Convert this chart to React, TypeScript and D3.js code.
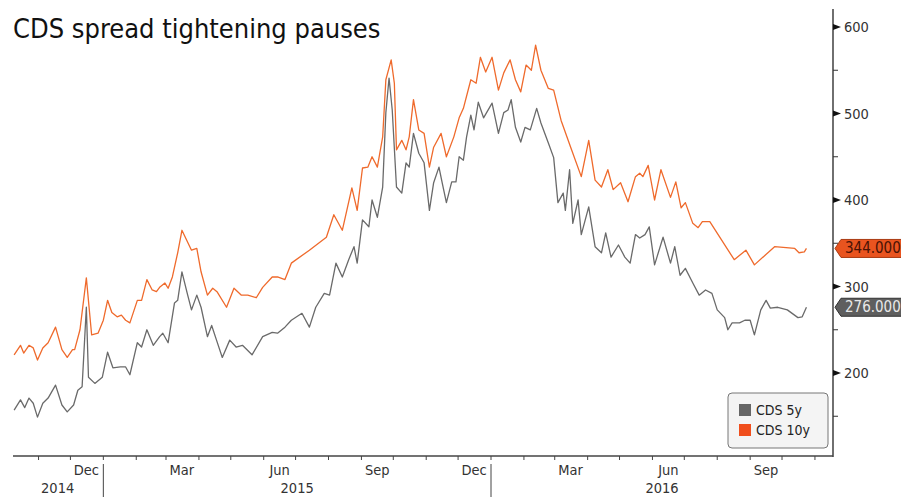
import React from "react";
import * as d3 from "d3";

// CDS spreads (bp), read as [date, value]
const cds10y: [string, number][] = [
  ["2014-10-09", 221], ["2014-10-15", 232], ["2014-10-18", 223], ["2014-10-23", 232],
  ["2014-10-27", 229], ["2014-10-31", 215], ["2014-11-05", 229], ["2014-11-10", 235],
  ["2014-11-17", 253], ["2014-11-23", 227], ["2014-11-28", 218], ["2014-12-03", 227],
  ["2014-12-05", 227], ["2014-12-10", 250], ["2014-12-16", 310], ["2014-12-21", 244],
  ["2014-12-27", 246], ["2015-01-01", 261], ["2015-01-05", 284], ["2015-01-09", 270],
  ["2015-01-14", 265], ["2015-01-18", 267], ["2015-01-22", 261], ["2015-01-26", 258],
  ["2015-02-02", 284], ["2015-02-06", 284], ["2015-02-11", 308], ["2015-02-16", 296],
  ["2015-02-20", 294], ["2015-02-23", 299], ["2015-02-28", 304], ["2015-03-03", 298],
  ["2015-03-07", 311], ["2015-03-12", 339], ["2015-03-16", 365], ["2015-03-25", 342],
  ["2015-03-30", 344], ["2015-04-03", 317], ["2015-04-09", 290], ["2015-04-14", 298],
  ["2015-04-18", 294], ["2015-04-27", 276], ["2015-05-04", 298], ["2015-05-11", 290],
  ["2015-05-17", 290], ["2015-05-25", 287], ["2015-05-31", 299], ["2015-06-09", 311],
  ["2015-06-14", 311], ["2015-06-21", 308], ["2015-06-27", 327], ["2015-07-14", 342],
  ["2015-07-30", 357], ["2015-08-06", 383], ["2015-08-14", 365], ["2015-08-23", 414],
  ["2015-08-28", 388], ["2015-09-02", 437], ["2015-09-07", 438], ["2015-09-11", 450],
  ["2015-09-16", 438], ["2015-09-21", 473], ["2015-09-24", 539], ["2015-09-29", 562],
  ["2015-10-02", 535], ["2015-10-04", 458], ["2015-10-09", 469], ["2015-10-13", 458],
  ["2015-10-16", 473], ["2015-10-20", 516], ["2015-10-25", 481], ["2015-10-30", 477],
  ["2015-11-04", 438], ["2015-11-08", 461], ["2015-11-15", 477], ["2015-11-20", 450],
  ["2015-11-27", 473], ["2015-12-02", 495], ["2015-12-06", 506], ["2015-12-13", 539],
  ["2015-12-18", 535], ["2015-12-22", 565], ["2015-12-27", 548], ["2016-01-02", 565],
  ["2016-01-08", 527], ["2016-01-13", 547], ["2016-01-19", 562], ["2016-01-24", 539],
  ["2016-01-29", 525], ["2016-02-03", 556], ["2016-02-08", 550], ["2016-02-12", 579],
  ["2016-02-17", 550], ["2016-02-24", 529], ["2016-02-29", 527], ["2016-03-07", 492],
  ["2016-03-16", 461], ["2016-03-26", 427], ["2016-04-02", 469], ["2016-04-08", 423],
  ["2016-04-14", 415], ["2016-04-20", 435], ["2016-04-25", 412], ["2016-05-02", 420],
  ["2016-05-09", 398], ["2016-05-16", 427], ["2016-05-20", 431], ["2016-05-23", 427],
  ["2016-05-28", 440], ["2016-06-03", 400], ["2016-06-09", 435], ["2016-06-18", 403],
  ["2016-06-23", 421], ["2016-06-28", 391], ["2016-07-02", 397], ["2016-07-09", 373],
  ["2016-07-14", 368], ["2016-07-18", 375], ["2016-07-25", 375], ["2016-08-17", 331],
  ["2016-08-28", 342], ["2016-09-05", 325], ["2016-09-24", 346], ["2016-10-13", 344],
  ["2016-10-17", 339], ["2016-10-22", 340], ["2016-10-24", 344],
];

const cds5y: [string, number][] = [
  ["2014-10-09", 157], ["2014-10-15", 169], ["2014-10-19", 160], ["2014-10-23", 171],
  ["2014-10-27", 165], ["2014-10-31", 149], ["2014-11-05", 165], ["2014-11-10", 171],
  ["2014-11-17", 186], ["2014-11-23", 163], ["2014-11-28", 155], ["2014-12-04", 163],
  ["2014-12-08", 180], ["2014-12-12", 184], ["2014-12-16", 276], ["2014-12-18", 195],
  ["2014-12-24", 188], ["2014-12-31", 195], ["2015-01-05", 224], ["2015-01-10", 206],
  ["2015-01-17", 207], ["2015-01-22", 207], ["2015-01-26", 198], ["2015-02-02", 235],
  ["2015-02-06", 230], ["2015-02-11", 250], ["2015-02-17", 232], ["2015-02-23", 242],
  ["2015-02-26", 246], ["2015-03-03", 235], ["2015-03-09", 281], ["2015-03-12", 284],
  ["2015-03-16", 317], ["2015-03-21", 292], ["2015-03-25", 273], ["2015-03-30", 290],
  ["2015-04-03", 276], ["2015-04-09", 242], ["2015-04-13", 255], ["2015-04-17", 240],
  ["2015-04-23", 218], ["2015-04-30", 238], ["2015-05-06", 230], ["2015-05-12", 232],
  ["2015-05-21", 221], ["2015-05-31", 242], ["2015-06-09", 247], ["2015-06-14", 246],
  ["2015-06-21", 253], ["2015-06-27", 261], ["2015-07-02", 265], ["2015-07-07", 269],
  ["2015-07-14", 253], ["2015-07-20", 276], ["2015-07-28", 292], ["2015-08-02", 290],
  ["2015-08-08", 327], ["2015-08-14", 311], ["2015-08-20", 331], ["2015-08-25", 346],
  ["2015-08-28", 327], ["2015-09-02", 377], ["2015-09-08", 369], ["2015-09-11", 400],
  ["2015-09-16", 380], ["2015-09-21", 415], ["2015-09-24", 501], ["2015-09-27", 541],
  ["2015-09-30", 504], ["2015-10-04", 415], ["2015-10-09", 408], ["2015-10-13", 443],
  ["2015-10-16", 438], ["2015-10-20", 477], ["2015-10-25", 454], ["2015-10-30", 443],
  ["2015-11-04", 388], ["2015-11-08", 420], ["2015-11-13", 438], ["2015-11-16", 420],
  ["2015-11-20", 397], ["2015-11-25", 421], ["2015-11-29", 421], ["2015-12-02", 450],
  ["2015-12-06", 446], ["2015-12-09", 473], ["2015-12-13", 498], ["2015-12-16", 481],
  ["2015-12-20", 513], ["2015-12-25", 495], ["2016-01-02", 512], ["2016-01-08", 477],
  ["2016-01-13", 501], ["2016-01-17", 504], ["2016-01-20", 516], ["2016-01-24", 484],
  ["2016-01-29", 467], ["2016-02-02", 484], ["2016-02-07", 481], ["2016-02-13", 506],
  ["2016-02-17", 489], ["2016-02-24", 466], ["2016-02-29", 449], ["2016-03-04", 397],
  ["2016-03-09", 408], ["2016-03-11", 388], ["2016-03-15", 435], ["2016-03-18", 373],
  ["2016-03-23", 400], ["2016-03-26", 360], ["2016-04-02", 392], ["2016-04-08", 346],
  ["2016-04-14", 339], ["2016-04-18", 362], ["2016-04-23", 334], ["2016-04-30", 348],
  ["2016-05-06", 334], ["2016-05-11", 327], ["2016-05-16", 360], ["2016-05-20", 356],
  ["2016-05-25", 360], ["2016-05-29", 369], ["2016-06-03", 325], ["2016-06-11", 357],
  ["2016-06-18", 327], ["2016-06-22", 346], ["2016-06-27", 313], ["2016-07-02", 321],
  ["2016-07-09", 304], ["2016-07-15", 290], ["2016-07-21", 296], ["2016-07-27", 292],
  ["2016-08-01", 273], ["2016-08-08", 264], ["2016-08-11", 250], ["2016-08-15", 258],
  ["2016-08-22", 258], ["2016-08-27", 261], ["2016-09-01", 261], ["2016-09-05", 244],
  ["2016-09-11", 273], ["2016-09-16", 284], ["2016-09-20", 275], ["2016-09-27", 276],
  ["2016-10-06", 273], ["2016-10-16", 264], ["2016-10-20", 265], ["2016-10-24", 276],
];

const yMajorTicks = [200, 300, 400, 500, 600];
const yMinorTicks = [150, 250, 350, 450, 550];
const monthLabels = ["Dec", "Mar", "Jun", "Sep"];
const yearLabels = ["2014", "2015", "2016"];
const seriesNames = ["CDS 5y", "CDS 10y"];
const lastValueLabels = ["276.000", "344.000"];

const W = 901;
const H = 497;
const COLORS = { c5: "#6a6a6a", c10: "#ef6a2c", tag10: "#e9541f", tag5: "#5e5e5e" };
const FONT = "'DejaVu Sans Condensed', 'DejaVu Sans', sans-serif";

const parse = d3.timeParse("%Y-%m-%d");

export default function App() {
  const axisX = 833;
  const axisY = 456;
  const left = 12;

  const x = d3
    .scaleTime()
    .domain([parse("2014-10-07")!, parse("2016-11-18")!])
    .range([left, axisX]);
  const y = d3.scaleLinear().domain([200, 600]).range([373, 27]);

  const line = d3
    .line<[string, number]>()
    .x((d) => x(parse(d[0])!))
    .y((d) => y(d[1]));

  const monthTicks = d3.timeMonth.range(parse("2014-11-01")!, parse("2016-11-02")!);
  const labelMonths = monthTicks.filter((m) => monthLabels.includes(d3.timeFormat("%b")(m)));
  const yearStarts = [parse("2015-01-01")!, parse("2016-01-01")!];
  const yearSpans: [number, number][] = [
    [left, x(yearStarts[0])],
    [x(yearStarts[0]), x(yearStarts[1])],
    [x(yearStarts[1]), axisX],
  ];

  const tag = (v: number) => {
    const cy = y(v);
    const x0 = axisX + 2;
    return `M${x0},${cy} L${x0 + 6},${cy - 9} L${W + 2},${cy - 9} L${W + 2},${cy + 9} L${x0 + 6},${cy + 9} Z`;
  };

  const last5 = cds5y[cds5y.length - 1][1];
  const last10 = cds10y[cds10y.length - 1][1];

  return (
    <svg
      width={W}
      height={H}
      style={{ position: "absolute", left: 0, top: 0, background: "#fff" }}
      fontFamily={FONT}
    >
      <rect width={W} height={H} fill="#fff" />
      <text x={13} y={38} fontSize={27} fill="#111">
        CDS spread tightening pauses
      </text>

      {/* series */}
      <path d={line(cds10y)!} fill="none" stroke={COLORS.c10} strokeWidth={1.3} strokeLinejoin="round" />
      <path d={line(cds5y)!} fill="none" stroke={COLORS.c5} strokeWidth={1.3} strokeLinejoin="round" />

      {/* right axis */}
      <line x1={axisX} x2={axisX} y1={9} y2={axisY + 1} stroke="#333" strokeWidth={1.4} />
      {yMajorTicks.map((t) => (
        <g key={t}>
          <path d={`M${axisX},${y(t) - 3} L${axisX + 8},${y(t)} L${axisX},${y(t) + 3} Z`} fill="#111" />
          <text x={axisX + 11} y={y(t) + 5} fontSize={14.5} fill="#333">
            {t}
          </text>
        </g>
      ))}
      {yMinorTicks.map((t) => (
        <line key={t} x1={axisX} x2={axisX + 5} y1={y(t)} y2={y(t)} stroke="#333" strokeWidth={1} />
      ))}

      {/* bottom axis */}
      <line x1={left + 1} x2={axisX} y1={axisY} y2={axisY} stroke="#444" strokeWidth={1.4} />
      {monthTicks.map((m, i) => (
        <line key={i} x1={x(m)} x2={x(m)} y1={axisY} y2={axisY + 4} stroke="#444" strokeWidth={1} />
      ))}
      {labelMonths.map((m, i) => (
        <text
          key={i}
          x={x(d3.timeDay.offset(m, 15))}
          y={axisY + 19}
          fontSize={14.5}
          textAnchor="middle"
          fill="#333"
        >
          {d3.timeFormat("%b")(m)}
        </text>
      ))}
      {yearStarts.map((d, i) => (
        <line key={i} x1={x(d)} x2={x(d)} y1={axisY + 8} y2={H} stroke="#444" strokeWidth={1} />
      ))}
      {yearSpans.map((s, i) => (
        <text key={i} x={(s[0] + s[1]) / 2} y={axisY + 37} fontSize={14.5} textAnchor="middle" fill="#333">
          {yearLabels[i]}
        </text>
      ))}

      {/* last value tags */}
      <path d={tag(last10)} fill={COLORS.tag10} stroke="#a83a12" strokeWidth={1} />
      <text x={axisX + 12} y={y(last10) + 5} fontSize={15} fill="#4a1205">
        {lastValueLabels[1]}
      </text>
      <path d={tag(last5)} fill={COLORS.tag5} stroke="#333" strokeWidth={1} />
      <text x={axisX + 12} y={y(last5) + 5} fontSize={15} fill="#e8e8e8">
        {lastValueLabels[0]}
      </text>

      {/* legend */}
      <rect x={728} y={393} width={100} height={55} rx={4} fill="#f4f4f4" stroke="#777" strokeWidth={1} />
      {seriesNames.map((n, i) => (
        <g key={n}>
          <rect x={739} y={404 + i * 20} width={12} height={12} fill={i === 0 ? "#666" : "#f04e1c"} />
          <text x={756} y={415 + i * 20} fontSize={14} fill="#222">
            {n}
          </text>
        </g>
      ))}
    </svg>
  );
}
